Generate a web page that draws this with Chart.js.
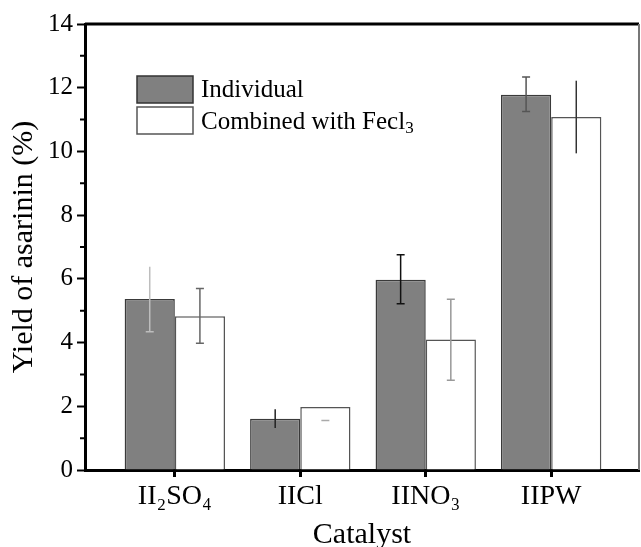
<!DOCTYPE html>
<html>
<head>
<meta charset="utf-8">
<script src="https://cdn.jsdelivr.net/npm/chart.js@4.4.0/dist/chart.umd.min.js"></script>
<style>
html, body { margin: 0; padding: 0; background: #fff; }
#wrap { width: 641px; height: 547px; }
</style>
</head>
<body>
<div id="wrap"><canvas id="myChart" width="641" height="547"></canvas></div>
<script>
// categorie (catalizzatori) e valori
var categorie = ['II\u2082SO\u2084', 'IICl', 'IINO\u2083', 'IIPW'];
var individual = [5.37, 1.61, 5.97, 11.78];
var combined = [4.83, 1.98, 4.10, 11.08];

// barre di errore (minimo e massimo)
var individualLow = [4.34, 1.32, 5.22, 11.25];
var individualHigh = [6.38, 1.91, 6.76, 12.34];
var combinedLow = [3.98, 1.55, 2.82, 9.94];
var combinedHigh = [5.70, 1.55, 5.36, 12.22];

// tick dell'asse y
var yTicks = [0, 2, 4, 6, 8, 10, 12, 14];
var yMinorTicks = [1, 3, 5, 7, 9, 11, 13];

// stile delle barre di errore (colore, cappuccio sopra, cappuccio sotto)
var individualErrStyle = [
    ['#bdbdbd', false, true],
    ['#222222', false, false],
    ['#111111', true, true],
    ['#555555', true, true]
];
var combinedErrStyle = [
    ['#666666', true, true],
    ['#aaaaaa', true, true],
    ['#999999', true, true],
    ['#333333', false, false]
];

var serif = "'Liberation Serif', 'Times New Roman', serif";

// costruisco i punti {x, y} per l'asse lineare
var puntiIndividual = individual.map(function (v, i) { return { x: i + 1, y: v }; });
var puntiCombined = combined.map(function (v, i) { return { x: i + 1, y: v }; });

var extraPlugin = {
    id: 'extra',
    afterDatasetsDraw: function (chart) {
        var ctx = chart.ctx;
        var y = chart.scales.y;
        var serie = [
            [0, individualLow, individualHigh, individualErrStyle],
            [1, combinedLow, combinedHigh, combinedErrStyle]
        ];
        ctx.save();
        serie.forEach(function (s) {
            var meta = chart.getDatasetMeta(s[0]);
            meta.data.forEach(function (bar, i) {
                var st = s[3][i];
                var yl = y.getPixelForValue(s[1][i]);
                var yh = y.getPixelForValue(s[2][i]);
                ctx.strokeStyle = st[0];
                ctx.lineWidth = 1.5;
                ctx.beginPath();
                ctx.moveTo(bar.x, yl);
                ctx.lineTo(bar.x, yh);
                if (st[1]) { ctx.moveTo(bar.x - 4, yh); ctx.lineTo(bar.x + 4, yh); }
                if (st[2]) { ctx.moveTo(bar.x - 4, yl); ctx.lineTo(bar.x + 4, yl); }
                ctx.stroke();
            });
        });
        ctx.restore();
    },
    afterDraw: function (chart) {
        var ctx = chart.ctx;
        var a = chart.chartArea;
        var y = chart.scales.y;
        ctx.save();
        // bordo superiore e destro
        ctx.strokeStyle = '#000';
        ctx.lineWidth = 3;
        ctx.beginPath();
        ctx.moveTo(a.left, a.top);
        ctx.lineTo(a.right, a.top);
        ctx.stroke();
        ctx.strokeStyle = '#777';
        ctx.lineWidth = 2;
        ctx.beginPath();
        ctx.moveTo(a.right, a.top);
        ctx.lineTo(a.right, a.bottom);
        ctx.stroke();
        // tick minori sull'asse y
        ctx.strokeStyle = '#000';
        ctx.lineWidth = 2;
        ctx.beginPath();
        yMinorTicks.forEach(function (v) {
            var py = y.getPixelForValue(v);
            ctx.moveTo(a.left - 5, py);
            ctx.lineTo(a.left, py);
        });
        ctx.stroke();

        // legenda
        var lx = a.left + 52, ly = a.top + 52;
        ctx.lineWidth = 1.5;
        ctx.fillStyle = chart.data.datasets[0].backgroundColor;
        ctx.strokeStyle = '#333';
        ctx.fillRect(lx, ly, 56, 27);
        ctx.strokeRect(lx, ly, 56, 27);
        ctx.fillStyle = '#fff';
        ctx.strokeStyle = '#555';
        ctx.fillRect(lx, ly + 31, 56, 27);
        ctx.strokeRect(lx, ly + 31, 56, 27);
        ctx.fillStyle = '#000';
        ctx.textBaseline = 'middle';
        ctx.textAlign = 'left';
        ctx.font = '25px ' + serif;
        ctx.fillText(chart.data.datasets[0].label, lx + 64, ly + 14);
        var t = 'Combined with Fecl';
        ctx.fillText(t, lx + 64, ly + 46);
        var w = ctx.measureText(t).width;
        ctx.font = '17px ' + serif;
        ctx.fillText('3', lx + 64 + w, ly + 53);
        ctx.restore();
    }
};

var ctx = document.getElementById('myChart').getContext('2d');

var myChart = new Chart(ctx, {
    type: 'bar',
    data: {
        datasets: [{
            label: 'Individual',
            data: puntiIndividual,
            backgroundColor: '#808080',
            borderColor: '#3a3a3a',
            borderWidth: 1.5,
            barPercentage: 1.0,
            categoryPercentage: 0.8
        }, {
            label: 'Combined with FeCl3',
            data: puntiCombined,
            backgroundColor: '#ffffff',
            borderColor: '#555555',
            borderWidth: 1.5,
            barPercentage: 1.0,
            categoryPercentage: 0.8
        }]
    },
    options: {
        responsive: false,
        animation: false,
        devicePixelRatio: 1,
        layout: { padding: { top: 24, right: 2, left: 0, bottom: 0 } },
        plugins: {
            legend: { display: false },
            tooltip: { enabled: false }
        },
        scales: {
            x: {
                type: 'linear',
                offset: false,
                min: 0.284,
                max: 4.70,
                afterBuildTicks: function (scale) {
                    scale.ticks = categorie.map(function (c, i) { return { value: i + 1 }; });
                },
                afterFit: function (scale) { scale.height = 77; },
                ticks: {
                    color: '#000',
                    font: { family: serif, size: 28 },
                    padding: 3,
                    maxRotation: 0,
                    callback: function (v) { return categorie[v - 1]; }
                },
                grid: { offset: false, drawOnChartArea: false, tickLength: 7, tickWidth: 3, tickColor: '#000' },
                border: { color: '#000', width: 3 },
                title: {
                    display: true,
                    text: 'Catalyst',
                    color: '#000',
                    font: { family: serif, size: 30 },
                    padding: { top: 0, bottom: -6 }
                }
            },
            y: {
                min: 0,
                max: 14,
                afterBuildTicks: function (scale) {
                    scale.ticks = yTicks.map(function (v) { return { value: v }; });
                },
                afterFit: function (scale) { scale.width = 85; },
                ticks: {
                    color: '#000',
                    font: { family: serif, size: 25 },
                    padding: 4
                },
                grid: { drawOnChartArea: false, tickLength: 8, tickWidth: 2, tickColor: '#000' },
                border: { color: '#000', width: 3 },
                title: {
                    display: true,
                    text: 'Yield of asarinin (%)',
                    color: '#000',
                    font: { family: serif, size: 30 },
                    padding: { top: 6, bottom: 0 }
                }
            }
        }
    },
    plugins: [extraPlugin]
});
</script>
</body>
</html>
